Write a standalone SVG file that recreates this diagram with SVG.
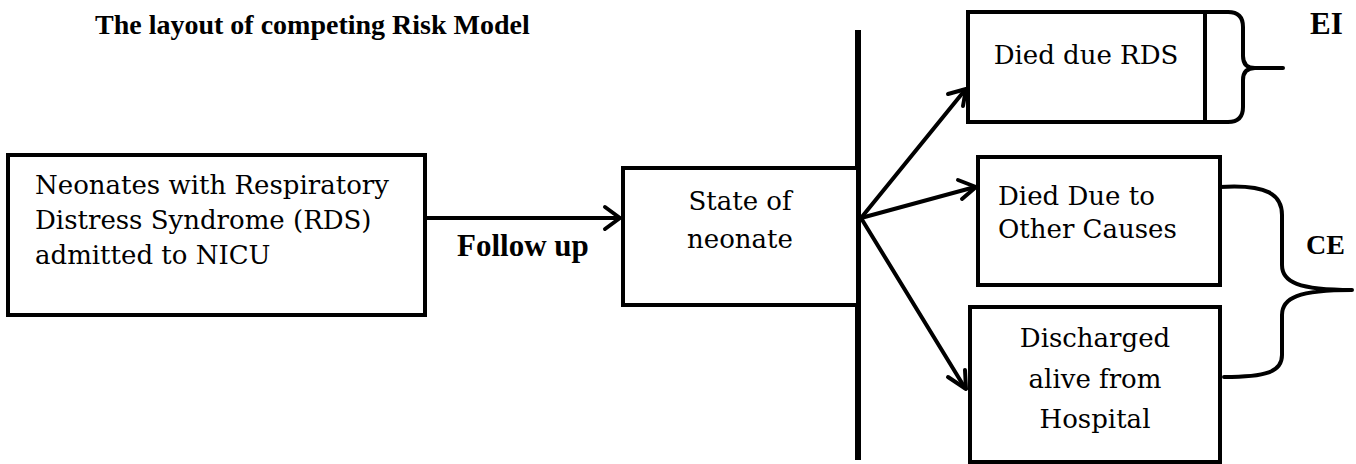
<svg xmlns="http://www.w3.org/2000/svg" width="1356" height="464" viewBox="0 0 1356 464">
<defs>
<style>
.box{fill:#fff;stroke:#000;stroke-width:4}
.lbl{font-family:"DejaVu Serif","Liberation Serif",serif;font-size:26px;fill:#000}
.bold{font-family:"Liberation Serif","Times New Roman",serif;font-weight:bold;font-size:28px;fill:#000}
.conn{fill:none;stroke:#000;stroke-width:4;stroke-linecap:round;stroke-linejoin:round}
.brace{fill:none;stroke:#000;stroke-width:4;stroke-linecap:round}
</style>
</defs>
<rect width="1356" height="464" fill="#fff"/>
<text class="bold" x="95" y="34">The layout of competing Risk Model</text>

<g id="connectors">
<line class="conn" x1="425" y1="218" x2="619" y2="218"/>
<path class="conn" d="M605,207 L620,218 L605,229"/>
<line x1="858" y1="30" x2="858" y2="460" stroke="#000" stroke-width="6"/>
<line class="conn" x1="861" y1="218" x2="965" y2="90"/>
<path class="conn" d="M948,94 L966,89 L963,106"/>
<line class="conn" x1="861" y1="218" x2="975" y2="187"/>
<path class="conn" d="M958,180 L976,187 L962,199"/>
<line class="conn" x1="861" y1="218" x2="965" y2="388"/>
<path class="conn" d="M948,377 L966,389 L965,370"/>
</g>

<g id="node-neonates">
<rect class="box" x="8" y="155" width="417" height="160"/>
<text class="lbl" x="35" y="194">Neonates with Respiratory</text>
<text class="lbl" x="35" y="229">Distress Syndrome (RDS)</text>
<text class="lbl" x="35" y="264">admitted to NICU</text>
</g>

<g id="label-follow">
<text class="bold" x="457" y="256" style="font-size:31px">Follow up</text>
</g>

<g id="node-state">
<rect class="box" x="623" y="168" width="235" height="137"/>
<text class="lbl" x="740" y="210" text-anchor="middle">State of</text>
<text class="lbl" x="740" y="248" text-anchor="middle">neonate</text>
</g>

<g id="node-rds">
<rect class="box" x="968" y="12" width="237" height="110"/>
<text class="lbl" x="1086" y="64" text-anchor="middle">Died due RDS</text>
<path class="brace" d="M1205,12 H1228 Q1243,12 1243,27 V56 Q1243,68 1255,68 H1283 M1255,68 Q1243,68 1243,80 V107 Q1243,122 1228,122 H1205"/>
<text class="bold" x="1310" y="34" style="font-size:31px">EI</text>
</g>

<g id="node-other">
<rect class="box" x="978" y="157" width="242" height="128"/>
<text class="lbl" x="998" y="205">Died Due to</text>
<text class="lbl" x="998" y="238">Other Causes</text>
</g>

<g id="node-discharged">
<rect class="box" x="970" y="307" width="250" height="155"/>
<text class="lbl" x="1095" y="347" text-anchor="middle">Discharged</text>
<text class="lbl" x="1095" y="388" text-anchor="middle">alive from</text>
<text class="lbl" x="1095" y="428" text-anchor="middle">Hospital</text>
</g>

<g id="brace-ce">
<path class="brace" d="M1220,187 C1268,184 1282,195 1282,215 V265 C1282,282 1298,290 1352,290 M1352,290 C1298,290 1282,298 1282,315 V355 C1282,372 1266,377 1224,377"/>
<text class="bold" x="1306" y="254">CE</text>
</g>
</svg>
